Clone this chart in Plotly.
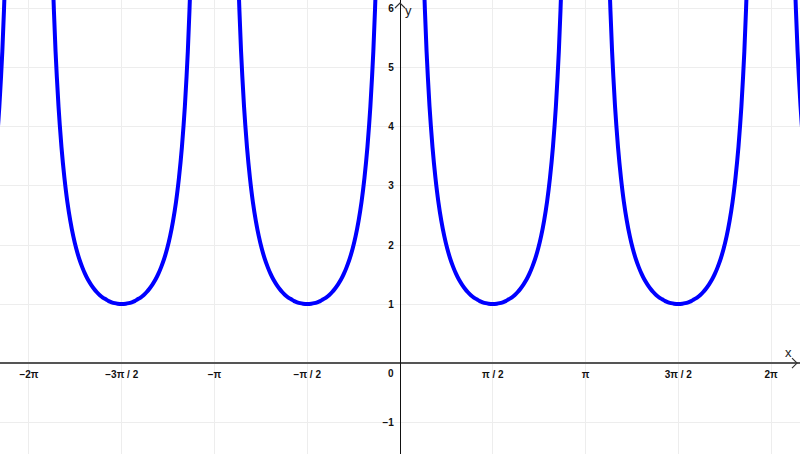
import math
import plotly.graph_objects as go

# -------------------------------
# Data: one branch of the curve (offset from its left asymptote)
# -------------------------------
branch_dx = [0.36, 0.40, 0.45, 0.50, 0.55, 0.60, 0.65, 0.70, 0.75, 0.80, 0.85, 0.90, 0.95, 1.00, 1.05,
             1.10, 1.15, 1.20, 1.25, 1.30, 1.35, 1.40, 1.45, 1.50, 1.57,
             1.64, 1.69, 1.74, 1.79, 1.84, 1.89, 1.94, 1.99, 2.04, 2.09, 2.14, 2.19, 2.24, 2.29,
             2.34, 2.39, 2.44, 2.49, 2.54, 2.59, 2.64, 2.69, 2.74, 2.78]
branch_y = [8.06, 6.60, 5.28, 4.35, 3.66, 3.14, 2.73, 2.41, 2.15, 1.94, 1.77, 1.63, 1.51, 1.41, 1.33,
            1.26, 1.20, 1.15, 1.11, 1.08, 1.05, 1.03, 1.015, 1.005, 1.00,
            1.005, 1.015, 1.03, 1.05, 1.08, 1.11, 1.15, 1.20, 1.26, 1.33, 1.41, 1.51, 1.63, 1.77,
            1.94, 2.15, 2.41, 2.73, 3.14, 3.66, 4.35, 5.28, 6.60, 8.06]
# left asymptote of each visible branch (multiples of pi)
branch_starts = [-3 * math.pi, -2 * math.pi, -math.pi, 0.0, math.pi, 2 * math.pi]

# axis ticks
x_tickvals = [k * math.pi / 2 for k in range(-4, 5)]
x_ticktext = ["\u22122\u03c0", "\u22123\u03c0 / 2", "\u2212\u03c0", "\u2212\u03c0 / 2", "",
              "\u03c0 / 2", "\u03c0", "3\u03c0 / 2", "2\u03c0"]
y_tickvals = [-1, 0, 1, 2, 3, 4, 5, 6]
y_ticktext = ["\u22121", "", "1", "2", "3", "4", "5", "6"]

X_RANGE = [-6.774, 6.774]
Y_RANGE = [-1.54, 6.15]

fig = go.Figure()

for start in branch_starts:
    fig.add_trace(go.Scatter(
        x=[start + d for d in branch_dx],
        y=branch_y,
        mode="lines",
        line=dict(color="#0000ff", width=4, shape="spline", smoothing=0.8),
        showlegend=False,
        hoverinfo="skip",
    ))

y0_frac = (0 - Y_RANGE[0]) / (Y_RANGE[1] - Y_RANGE[0])
x0_frac = (0 - X_RANGE[0]) / (X_RANGE[1] - X_RANGE[0])

tick_font = dict(family="Liberation Sans, Arial", size=10, color="#111111", weight="bold")
label_font = dict(family="Liberation Sans, Arial", size=13, color="#222222")

fig.update_layout(
    width=800, height=454,
    margin=dict(l=0, r=0, t=0, b=0, autoexpand=False),
    paper_bgcolor="white", plot_bgcolor="white",
    xaxis=dict(
        range=X_RANGE, tickvals=x_tickvals, ticktext=x_ticktext,
        showgrid=True, gridcolor="#ededed", gridwidth=1, zeroline=False,
        showline=True, linecolor="#555555", linewidth=1.5,
        anchor="free", position=y0_frac, ticks="", tickfont=tick_font,
        ticklabelstandoff=2, automargin=False,
    ),
    yaxis=dict(
        range=Y_RANGE, tickvals=y_tickvals, ticktext=y_ticktext,
        showgrid=True, gridcolor="#ededed", gridwidth=1, zeroline=False,
        showline=True, linecolor="#111111", linewidth=1.2,
        anchor="free", position=x0_frac, ticks="", tickfont=tick_font,
        ticklabelstandoff=4, automargin=False,
    ),
    annotations=[
        dict(x=0, y=0, xref="x", yref="y", text="<b>0</b>", showarrow=False, font=tick_font,
             xanchor="right", yanchor="top", xshift=-4, yshift=-3),
        dict(x=1, y=0, xref="paper", yref="y", text="x", showarrow=False, font=label_font,
             xanchor="right", yanchor="bottom", xshift=-6, yshift=1),
        dict(x=0, y=1, xref="x", yref="paper", text="y", showarrow=False, font=label_font,
             xanchor="left", yanchor="top", xshift=3, yshift=-1),
    ],
    shapes=[
        dict(type="path", xref="paper", yref="y", xsizemode="pixel", ysizemode="pixel",
             xanchor=1, yanchor=0, path="M -8,-5 L -3,0 L -8,5",
             line=dict(color="#333333", width=1.2)),
        dict(type="path", xref="x", yref="paper", xsizemode="pixel", ysizemode="pixel",
             xanchor=0, yanchor=1, path="M -5,-8 L 0,-3 L 5,-8",
             line=dict(color="#333333", width=1.2)),
    ],
)

# drop the page's default body margin so the figure sits flush in the window
fig.write_html("out.html", config={"displayModeBar": False},
               post_script="document.body.style.margin='0';")
